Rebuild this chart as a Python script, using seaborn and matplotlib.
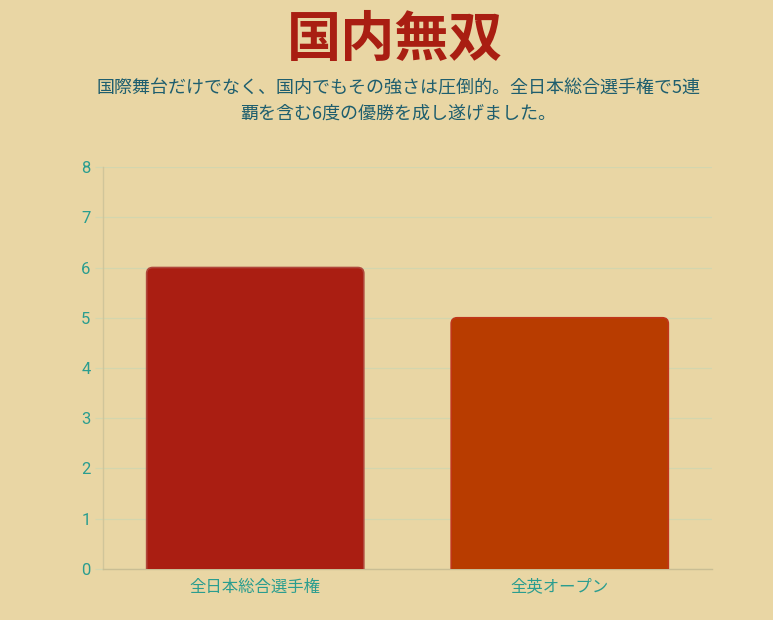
import matplotlib
matplotlib.use("Agg")
import matplotlib.pyplot as plt
import seaborn as sns
import pandas as pd
from matplotlib.patches import FancyBboxPatch

# === データ ===
categories = ["全日本総合選手権", "全英オープン"]
wins = [6, 5]
bar_colors = ["#AA1E12", "#B83C00"]
edge_colors = ["#B0473C", "#C0361A"]
yticks = list(range(0, 9))

title = "国内無双"
subtitle = "国際舞台だけでなく、国内でもその強さは圧倒的。全日本総合選手権で5連\n覇を含む6度の優勝を成し遂げました。"

bg = "#E9D6A4"
teal = "#2A9D8F"
grid_col = "#D3D6AE"

sns.set_theme(style="white")
plt.rcParams["font.family"] = ["Noto Sans CJK JP", "DejaVu Sans"]

df = pd.DataFrame({"cat": categories, "wins": wins})

fig = plt.figure(figsize=(7.73, 6.2), dpi=100, facecolor=bg)
ax = fig.add_axes([0.1332, 0.0823, 0.7879, 0.6483])
ax.set_facecolor(bg)

sns.barplot(data=df, x="cat", y="wins", hue="cat", palette=bar_colors,
            saturation=1, width=0.713, legend=False, ax=ax, zorder=3)

ax.set_ylim(0, 8)
ax.set_xlim(-0.5, 1.5)
ax.set_yticks(yticks)

# 角丸のバーに置き換え
fig.canvas.draw()
px_per_x = ax.bbox.width / 2.0
px_per_y = ax.bbox.height / 8.0
aspect = px_per_x / px_per_y
for p, ec in zip(list(ax.patches), edge_colors):
    x, w, h = p.get_x(), p.get_width(), p.get_height()
    fc = p.get_facecolor()
    p.remove()
    r = 6 / px_per_x
    fb = FancyBboxPatch((x, -0.3), w, h + 0.3,
                        boxstyle=f"round,pad=0,rounding_size={r}",
                        mutation_aspect=aspect,
                        facecolor=fc, edgecolor=ec, linewidth=1.2,
                        zorder=3, clip_on=True)
    ax.add_patch(fb)

ax.grid(axis="y", color=grid_col, linewidth=0.9, zorder=0)
ax.grid(axis="x", visible=False)
for s in ["top", "right"]:
    ax.spines[s].set_visible(False)
ax.spines["left"].set_color("#D0C59A")
ax.spines["bottom"].set_color("#C9BE94")
ax.spines["left"].set_linewidth(1)
ax.spines["bottom"].set_linewidth(1)

ax.tick_params(axis="y", colors=grid_col, labelcolor=teal, labelsize=12,
               length=6, width=0.9, pad=3, left=True)
ax.tick_params(axis="x", labelcolor=teal, labelsize=11.8, length=0, pad=7)
for lab in ax.get_yticklabels():
    lab.set_fontfamily(["Roboto", "DejaVu Sans"])
ax.set_xlabel("")
ax.set_ylabel("")

fig.text(0.511, 0.935, title, ha="center", va="center",
         fontsize=39, fontweight="bold", color="#A91E12")
fig.text(0.515, 0.837, subtitle, ha="center", va="center",
         fontsize=13, color="#1E5E6E", linespacing=1.48)

fig.savefig("out.png", dpi=100, facecolor=bg)
plt.close(fig)
